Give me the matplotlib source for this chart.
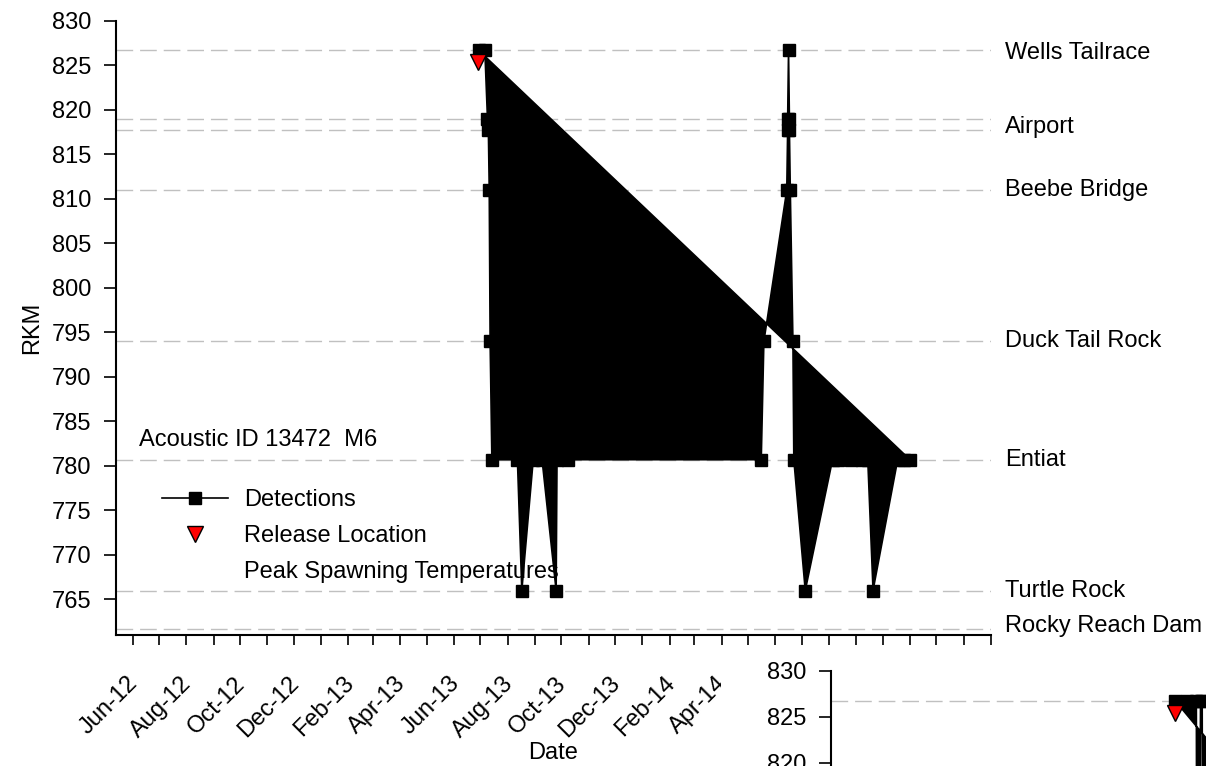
import matplotlib
matplotlib.use("Agg")
import matplotlib.pyplot as plt
import matplotlib.dates as mdates
from matplotlib.lines import Line2D
from matplotlib.transforms import ScaledTranslation
import pandas as pd

plt.rcParams['font.family'] = ['Liberation Sans', 'DejaVu Sans']
plt.rcParams['font.size'] = 17

# --- Dados: deteccoes do peixe (Acoustic ID 13472) ---
det_datas = ['2013-06-29', '2013-07-06', '2013-07-09', '2013-07-10', '2013-07-11',
             '2013-07-12', '2013-07-14', '2013-08-12', '2013-08-17', '2013-08-30',
             '2013-09-09', '2013-09-25', '2013-09-26', '2013-10-08', '2014-05-16',
             '2014-05-19', '2014-06-14', '2014-06-15', '2014-06-15', '2014-06-16',
             '2014-06-17', '2014-06-17', '2014-06-18', '2014-06-21', '2014-06-22',
             '2014-07-05', '2014-08-05', '2014-08-11', '2014-08-26', '2014-09-07',
             '2014-09-14', '2014-09-20', '2014-10-18', '2014-10-25', '2014-11-01']
det_rkm = [826.7, 826.7, 819.0, 817.8, 811.0,
           794.0, 780.7, 780.7, 766.0, 780.7,
           780.7, 766.0, 780.7, 780.7, 780.7,
           794.0, 811.0, 817.8, 819.0, 826.7,
           819.0, 817.8, 811.0, 794.0, 780.7,
           766.0, 780.7, 780.7, 780.7, 780.7,
           780.7, 766.0, 780.7, 780.7, 780.7]

soltura_data = ['2013-06-28']
soltura_rkm = [825.4]

# --- Locais (linhas tracejadas) ---
linhas_rkm = [826.7, 819.0, 817.8, 811.0, 794.0, 780.7, 766.0, 761.7]
rotulos = ['Wells Tailrace', 'Airport', 'Beebe Bridge', 'Duck Tail Rock',
           'Entiat', 'Turtle Rock', 'Rocky Reach Dam']
rotulos_rkm = [826.4, 818.1, 811.0, 794.0, 780.7, 766.0, 762.0]

# --- Segundo grafico (sobreposto no canto, so o topo aparece) ---
ins_datas = ['2013-06-29', '2013-07-13', '2013-07-24', '2013-07-25', '2013-07-27',
             '2013-07-29', '2013-07-31', '2013-08-01', '2014-08-24']
ins_rkm = [826.7, 826.7, 826.7, 780.7, 780.7,
           826.7, 826.7, 780.7, 780.7]

x_ini, x_fim = '2012-05-13', '2015-02-01'
y_min, y_max = 761, 830
COR_TRACO = '#c0c0c0'


def desenhar(fig, ax, datas, rkm, rotular=True):
    x = mdates.date2num(pd.to_datetime(datas))
    for r in linhas_rkm:
        ax.axhline(r, color=COR_TRACO, lw=1.0, dashes=(12, 5), zorder=1)
    ax.fill(x, rkm, facecolor='black', edgecolor='black', lw=1.2, zorder=2)
    ax.plot(x, rkm, ls='none', marker='s', ms=8, color='black', zorder=3)
    xs = mdates.date2num(pd.to_datetime(soltura_data))
    ax.plot(xs, soltura_rkm, ls='none', marker='v', ms=11, mfc='red', mec='black', mew=1, zorder=4)

    ax.set_xlim(mdates.date2num(pd.to_datetime(x_ini)), mdates.date2num(pd.to_datetime(x_fim)))
    ax.set_ylim(y_min, y_max)
    ax.set_yticks(range(765, 831, 5))
    for s in ['top', 'right']:
        ax.spines[s].set_visible(False)
    for s in ['left', 'bottom']:
        ax.spines[s].set_linewidth(1.5)
    ax.tick_params(axis='y', direction='out', length=9, width=1.2, pad=9)
    ax.tick_params(axis='x', direction='out', length=7, width=1.2, pad=20)

    meses = pd.date_range('2012-06-01', x_fim, freq='MS')
    ax.set_xticks(mdates.date2num(meses))
    ax.set_xticklabels([m.strftime('%b-%y') if i % 2 == 0 else '' for i, m in enumerate(meses)],
                       rotation=45, ha='right', rotation_mode='anchor')
    desloc = ScaledTranslation(-0.06, 0, fig.dpi_scale_trans)
    for lbl in ax.get_xticklabels():
        lbl.set_transform(lbl.get_transform() + desloc)

    if rotular:
        for nome, r in zip(rotulos, rotulos_rkm):
            ax.text(1.016, r, nome, transform=ax.get_yaxis_transform(), va='center', ha='left',
                    clip_on=False)


fig = plt.figure(figsize=(12.06, 7.66), dpi=100)
ax = fig.add_axes([116 / 1206, 131 / 766, 875 / 1206, 614 / 766])
desenhar(fig, ax, det_datas, det_rkm)
ax.set_ylabel('RKM', labelpad=6)
ax.set_xlabel('Date', labelpad=0)

ax.text(0.026, 0.318, 'Acoustic ID 13472  M6', transform=ax.transAxes, va='center', ha='left')

alcas = [Line2D([], [], color='black', marker='s', ms=8, lw=1.2),
         Line2D([], [], color='none', marker='v', ms=11, mfc='red', mec='black'),
         Line2D([], [], color='none')]
ax.legend(alcas, ['Detections', 'Release Location', 'Peak Spawning Temperatures'],
          loc='upper left', bbox_to_anchor=(0.052, 0.237), frameon=False,
          handlelength=2.8, handletextpad=0.7, labelspacing=0.58, borderpad=0, borderaxespad=0)

# fundo branco do grafico sobreposto
fundo = fig.add_axes([721 / 1206, -0.5, 0.6, (766 - 656) / 766 + 0.5], zorder=5)
fundo.set_axis_off()
fundo.add_patch(plt.Rectangle((0, 0), 1, 1, transform=fundo.transAxes, color='white'))

ax2 = fig.add_axes([831 / 1206, (766 - 670.7) / 766 - 635 / 766, 831 / 1206, 635 / 766], zorder=6)
ax2.patch.set_alpha(0)
desenhar(fig, ax2, ins_datas, ins_rkm, rotular=False)

fig.savefig('out.png', dpi=100)
